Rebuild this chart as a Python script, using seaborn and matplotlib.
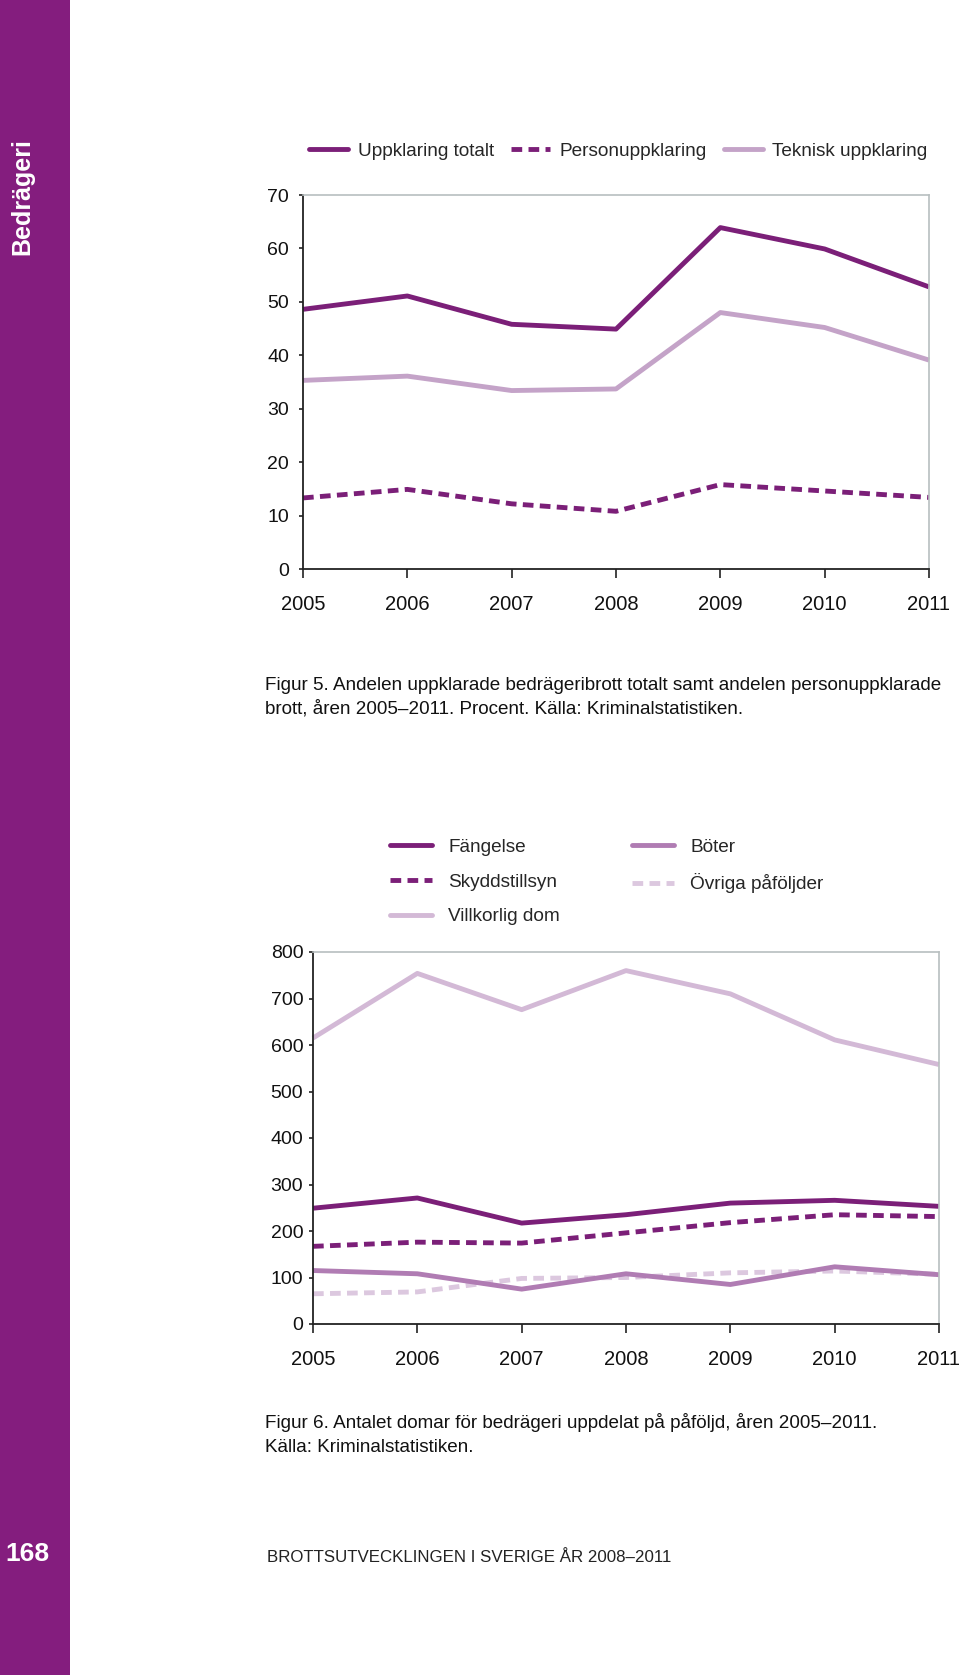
import matplotlib
matplotlib.use("Agg")
import matplotlib.pyplot as plt
from matplotlib.lines import Line2D
from matplotlib.patches import Rectangle
import seaborn as sns
import pandas as pd

# ---------------- data ----------------
years = [2005, 2006, 2007, 2008, 2009, 2010, 2011]

# Figure 5 (percent)
uppklaring_totalt = [48.6, 51.1, 45.8, 44.9, 63.9, 59.9, 52.8]
personuppklaring = [13.3, 14.9, 12.2, 10.8, 15.8, 14.6, 13.4]
teknisk_uppklaring = [35.3, 36.1, 33.4, 33.7, 48.0, 45.2, 39.1]

# Figure 6 (number of sentences)
fangelse = [249, 271, 217, 235, 260, 266, 253]
skyddstillsyn = [167, 176, 174, 196, 218, 235, 231]
villkorlig_dom = [615, 754, 676, 760, 710, 611, 558]
boter = [115, 108, 75, 108, 85, 123, 106]
ovriga = [65, 69, 98, 100, 110, 114, 107]

labels1 = ["Uppklaring totalt", "Personuppklaring", "Teknisk uppklaring"]
labels2 = ["Fängelse", "Skyddstillsyn", "Villkorlig dom", "Böter", "Övriga påföljder"]
yticks1 = [0, 10, 20, 30, 40, 50, 60, 70]
yticks2 = [0, 100, 200, 300, 400, 500, 600, 700, 800]

# ---------------- style ----------------
sns.set_theme(style="white")
plt.rcParams["font.family"] = ["Liberation Sans", "DejaVu Sans"]

DARK = "#7b1f78"
TEK = "#c4a3c8"
BOT = "#b07cb3"
VILL = "#d3b9d6"
OVR = "#dcc8df"
SIDEBAR = "#841d7e"
GREY = "#b8bfc0"
LW = 3.5
DASH = (2.2, 1.3)

W, H = 960, 1675
fig = plt.figure(figsize=(W / 100, H / 100), dpi=100)
fig.patch.set_facecolor("white")

def fx(px):
    return px / W

def fy(py):
    return 1 - py / H

# sidebar
fig.patches.append(Rectangle((0, 0), fx(70), 1, transform=fig.transFigure,
                             facecolor=SIDEBAR, edgecolor="none", zorder=0))
fig.text(fx(22), fy(197), "Bedrägeri", rotation=90, color="white",
         fontsize=18, fontweight="bold", ha="center", va="center")
fig.text(fx(27), fy(1554), "168", color="white", fontsize=19,
         fontweight="bold", ha="center", va="center")


def style_axes(ax, yticks, ypad):
    ax.set_xlim(years[0], years[-1])
    ax.set_ylim(yticks[0], yticks[-1])
    ax.set_xticks(years)
    ax.set_xticklabels([str(y) for y in years])
    ax.set_yticks(yticks)
    ax.set_yticklabels([str(v) for v in yticks])
    for side in ["top", "right"]:
        ax.spines[side].set_visible(True)
        ax.spines[side].set_color(GREY)
        ax.spines[side].set_linewidth(1.2)
    for side in ["left", "bottom"]:
        ax.spines[side].set_color("#222222")
        ax.spines[side].set_linewidth(1.3)
    ax.tick_params(axis="x", which="major", bottom=True, direction="out",
                   length=6.5, width=1.2, color="#222222", pad=12,
                   labelsize=14.5, labelcolor="#111111")
    ax.tick_params(axis="y", which="major", left=True, direction="out",
                   length=3, width=1.2, color="#222222", pad=ypad,
                   labelsize=14, labelcolor="#111111")
    ax.set_xlabel("")
    ax.set_ylabel("")
    ax.grid(False)
    ax.set_facecolor("white")


# ---------------- Figure 5 ----------------
ax1 = fig.add_axes([fx(303), fy(569), fx(929 - 303), (569 - 195) / H])
df1 = pd.DataFrame({
    "year": years * 3,
    "value": uppklaring_totalt + personuppklaring + teknisk_uppklaring,
    "serie": [labels1[0]] * 7 + [labels1[1]] * 7 + [labels1[2]] * 7,
})
pal1 = {labels1[0]: DARK, labels1[1]: DARK, labels1[2]: TEK}
dash1 = {labels1[0]: "", labels1[1]: DASH, labels1[2]: ""}
order1 = [labels1[2], labels1[1], labels1[0]]
sns.lineplot(data=df1, x="year", y="value", hue="serie", style="serie",
             hue_order=order1, style_order=order1, palette=pal1,
             dashes=dash1, linewidth=LW, legend=False, ax=ax1)
for ln in ax1.lines:
    ln.set_solid_capstyle("butt")
    ln.set_dash_capstyle("butt")
    ln.set_clip_on(False)
style_axes(ax1, yticks1, 7)

h1 = [Line2D([], [], color=DARK, lw=LW),
      Line2D([], [], color=DARK, lw=LW, dashes=DASH),
      Line2D([], [], color=TEK, lw=LW)]
fig.legend(h1, labels1, loc="center left", bbox_to_anchor=(fx(309), fy(151)),
           ncol=3, frameon=False, fontsize=13.7, handlelength=2.05,
           handletextpad=0.5, columnspacing=0.9, borderpad=0,
           borderaxespad=0)

fig.text(fx(265), fy(686),
         "Figur 5. Andelen uppklarade bedrägeribrott totalt samt andelen personuppklarade",
         fontsize=13.6, ha="left", va="center", color="#111111")
fig.text(fx(265), fy(709),
         "brott, åren 2005–2011. Procent. Källa: Kriminalstatistiken.",
         fontsize=13.6, ha="left", va="center", color="#111111")

# ---------------- Figure 6 ----------------
ax2 = fig.add_axes([fx(313), fy(1324), fx(939 - 313), (1324 - 952) / H])
vals2 = [fangelse, skyddstillsyn, villkorlig_dom, boter, ovriga]
df2 = pd.DataFrame({
    "year": years * 5,
    "value": sum(vals2, []),
    "serie": sum([[lab] * 7 for lab in labels2], []),
})
pal2 = {labels2[0]: DARK, labels2[1]: DARK, labels2[2]: VILL,
        labels2[3]: BOT, labels2[4]: OVR}
dash2 = {labels2[0]: "", labels2[1]: DASH, labels2[2]: "",
         labels2[3]: "", labels2[4]: DASH}
order2 = [labels2[2], labels2[4], labels2[3], labels2[1], labels2[0]]
sns.lineplot(data=df2, x="year", y="value", hue="serie", style="serie",
             hue_order=order2, style_order=order2, palette=pal2,
             dashes=dash2, linewidth=LW, legend=False, ax=ax2)
for ln in ax2.lines:
    ln.set_solid_capstyle("butt")
    ln.set_dash_capstyle("butt")
    ln.set_clip_on(False)
style_axes(ax2, yticks2, 4)

h2 = []
for l in labels2:
    if dash2[l]:
        h2.append(Line2D([], [], color=pal2[l], lw=LW, dashes=dash2[l]))
    else:
        h2.append(Line2D([], [], color=pal2[l], lw=LW))
fig.legend(h2, labels2, loc="center left", bbox_to_anchor=(fx(390), fy(882)),
           ncol=2, frameon=False, fontsize=13.7, handlelength=2.2,
           handletextpad=0.85, columnspacing=3.8, labelspacing=0.92,
           borderpad=0, borderaxespad=0)

fig.text(fx(265), fy(1422),
         "Figur 6. Antalet domar för bedrägeri uppdelat på påföljd, åren 2005–2011.",
         fontsize=13.6, ha="left", va="center", color="#111111")
fig.text(fx(265), fy(1447), "Källa: Kriminalstatistiken.",
         fontsize=13.6, ha="left", va="center", color="#111111")

fig.text(fx(267), fy(1558), "BROTTSUTVECKLINGEN I SVERIGE ÅR 2008–2011",
         fontsize=12.2, ha="left", va="center", color="#222222")

fig.savefig("out.png", dpi=100, facecolor="white")
